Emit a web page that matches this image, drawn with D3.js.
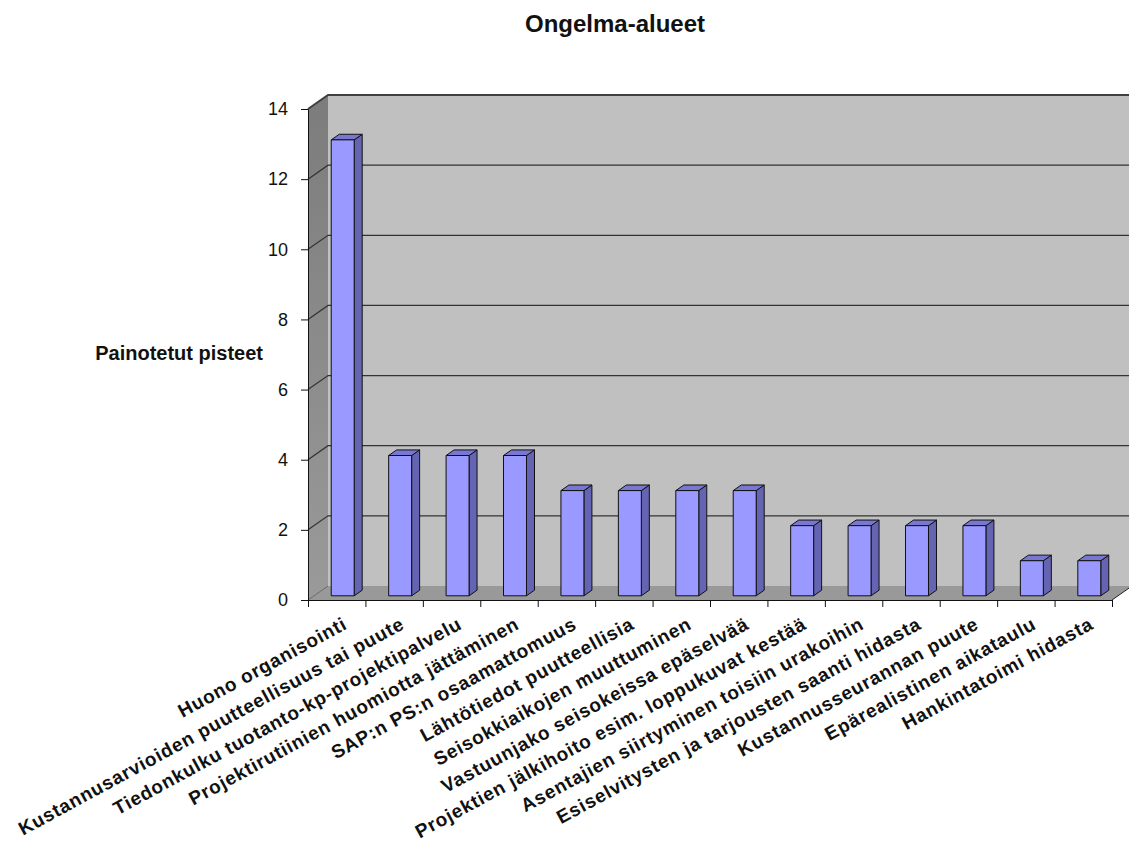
<!DOCTYPE html>
<html>
<head>
<meta charset="utf-8">
<script src="https://cdn.jsdelivr.net/npm/d3@7"></script>
<style>
  body { margin: 0; background: white; }
  svg { display: block; font-family: "Liberation Sans", Arial, sans-serif; }
</style>
</head>
<body>
<svg id="chart" width="1129" height="841"></svg>
<script>
const categories = [
    'Huono organisointi',
    'Kustannusarvioiden puutteellisuus tai puute',
    'Tiedonkulku tuotanto-kp-projektipalvelu',
    'Projektirutiinien huomiotta jättäminen',
    'SAP:n PS:n osaamattomuus',
    'Lähtötiedot puutteellisia',
    'Seisokkiaikojen muuttuminen',
    'Vastuunjako seisokeissa epäselvää',
    'Projektien jälkihoito esim. loppukuvat kestää',
    'Asentajien siirtyminen toisiin urakoihin',
    'Esiselvitysten ja tarjousten saanti hidasta',
    'Kustannusseurannan puute',
    'Epärealistinen aikataulu',
    'Hankintatoimi hidasta'
]
const values = [13, 4, 4, 4, 3, 3, 3, 3, 2, 2, 2, 2, 1, 1]
const yTicks = [0, 2, 4, 6, 8, 10, 12, 14]
const title = 'Ongelma-alueet'
const yTitle = 'Painotetut pisteet'

const margin = { left: 308, top: 109, right: 1112, bottom: 600 }
const depth = { dx: 20, dy: -14 }

const svg = d3.select('#chart')

const xscale = d3.scaleBand()
    .domain(categories)
    .range([margin.left, margin.right])
    .padding(0)

const xedges = d3.scaleLinear()
    .domain([0, categories.length])
    .range([margin.left, margin.right])

const yscale = d3.scaleLinear()
    .domain([0, d3.max(yTicks)])
    .range([margin.bottom, margin.top])

const pts = arr => arr.map(p => p.join(',')).join(' ')

const addWalls = () => {
    const defs = svg.append('defs')
    const grad = defs.append('linearGradient')
        .attr('id', 'sideWall')
        .attr('x1', 0).attr('y1', 0).attr('x2', 0).attr('y2', 1)
    grad.append('stop').attr('offset', '0%').attr('stop-color', '#7c7c7c')
    grad.append('stop').attr('offset', '100%').attr('stop-color', '#9a9a9a')

    const x0 = margin.left, x1 = margin.right
    const yb = yscale(0), yt = yscale(d3.max(yTicks))
    const { dx, dy } = depth

    // back wall
    svg.append('rect')
        .attr('x', x0 + dx)
        .attr('y', yt + dy)
        .attr('width', x1 - x0)
        .attr('height', yb - yt)
        .attr('fill', '#c0c0c0')

    // left wall
    svg.append('polygon')
        .attr('points', pts([[x0, yb], [x0 + dx, yb + dy], [x0 + dx, yt + dy], [x0, yt]]))
        .attr('fill', 'url(#sideWall)')

    // floor
    svg.append('polygon')
        .attr('points', pts([[x0, yb], [x1, yb], [x1 + dx, yb + dy], [x0 + dx, yb + dy]]))
        .attr('fill', '#999999')

    // grid lines
    yTicks.filter(v => v > 0).forEach(v => {
        const y = yscale(v)
        svg.append('polyline')
            .attr('points', pts([[x0, y], [x0 + dx, y + dy], [x1 + dx, y + dy]]))
            .attr('fill', 'none')
            .attr('stroke', v === d3.max(yTicks) ? '#404040' : '#333')
            .attr('stroke-width', v === d3.max(yTicks) ? 2 : 1.2)
    })

    svg.append('line')
        .attr('x1', x0).attr('y1', yb)
        .attr('x2', x0 + dx).attr('y2', yb + dy)
        .attr('stroke', '#666')

    svg.append('line')
        .attr('x1', x1).attr('y1', yb)
        .attr('x2', x1 + dx).attr('y2', yb + dy)
        .attr('stroke', '#222')
}

const addBars = () => {
    const { dx, dy } = depth
    const bw = xscale.bandwidth() * 0.4
    const ddx = dx * 0.4, ddy = dy * 0.4

    const g = svg.append('g')
        .attr('stroke', '#111')
        .attr('stroke-width', 1)
        .attr('stroke-linejoin', 'round')

    categories.forEach((c, i) => {
        const bx = xscale(c) + (xscale.bandwidth() - bw) / 2 + dx * 0.3
        const y0 = yscale(0) + dy * 0.3
        const y1 = yscale(values[i]) + dy * 0.3

        g.append('polygon')
            .attr('points', pts([[bx + bw, y0], [bx + bw + ddx, y0 + ddy], [bx + bw + ddx, y1 + ddy], [bx + bw, y1]]))
            .attr('fill', '#6464b2')
        g.append('polygon')
            .attr('points', pts([[bx, y1], [bx + bw, y1], [bx + bw + ddx, y1 + ddy], [bx + ddx, y1 + ddy]]))
            .attr('fill', '#7878d2')
        g.append('rect')
            .attr('x', bx)
            .attr('y', y1)
            .attr('width', bw)
            .attr('height', y0 - y1)
            .attr('fill', '#9999ff')
    })
}

const addAxes = () => {
    const yAxis = d3.axisLeft(yscale)
        .tickValues(yTicks)
        .tickSize(7)
        .tickSizeOuter(0)
        .tickPadding(13)

    svg.append('g')
        .attr('transform', `translate(${margin.left},0)`)
        .call(yAxis)
        .call(g => g.selectAll('path, line').attr('stroke', '#111'))
        .call(g => g.selectAll('text')
            .attr('font-size', 18)
            .attr('font-family', '"Liberation Sans", Arial, sans-serif')
            .attr('fill', '#111'))

    const xAxis = d3.axisBottom(xedges)
        .tickValues(d3.range(categories.length + 1))
        .tickFormat('')
        .tickSize(7)
        .tickSizeOuter(0)

    svg.append('g')
        .attr('transform', `translate(0,${margin.bottom})`)
        .call(xAxis)
        .call(g => g.selectAll('path, line').attr('stroke', '#111'))

    svg.append('g')
        .selectAll('text')
        .data(categories)
        .join('text')
        .attr('transform', d => `translate(${xscale(d) + xscale.bandwidth() / 2 + 5},${margin.bottom + 16}) rotate(-28.5)`)
        .attr('text-anchor', 'end')
        .attr('dy', '0.72em')
        .attr('font-size', 19)
        .attr('font-weight', 'bold')
        .attr('letter-spacing', 0.8)
        .attr('fill', '#111')
        .text(d => d)
}

const addText = () => {
    svg.append('text')
        .text(title)
        .attr('x', 615)
        .attr('y', 32)
        .attr('text-anchor', 'middle')
        .attr('font-size', 24)
        .attr('font-weight', 'bold')
        .attr('fill', '#111')

    svg.append('text')
        .text(yTitle)
        .attr('x', 263)
        .attr('y', 360)
        .attr('text-anchor', 'end')
        .attr('font-size', 20)
        .attr('font-weight', 'bold')
        .attr('fill', '#111')
}

addWalls()
addBars()
addAxes()
addText()
</script>
</body>
</html>
